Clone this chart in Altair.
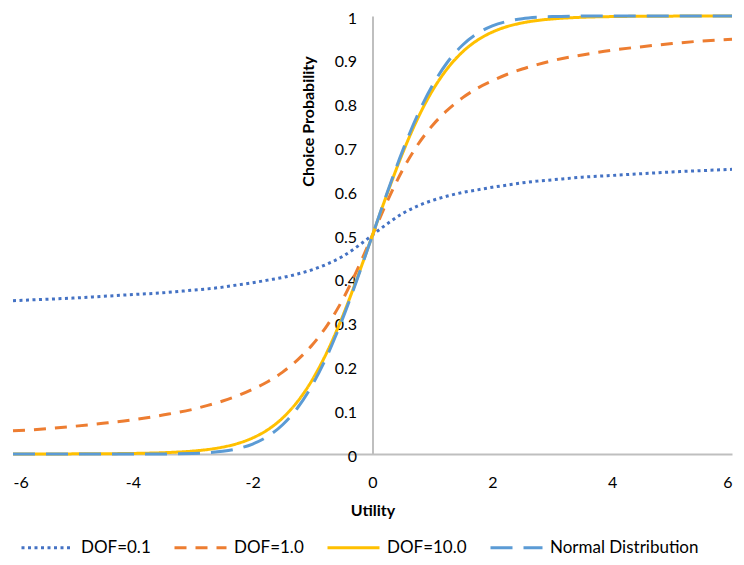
import altair as alt
import pandas as pd

x_vals = [-6, -5.5, -5, -4.5, -4, -3.5, -3, -2.75, -2.5, -2.25, -2, -1.75, -1.5, -1.25,
          -1, -0.75, -0.5, -0.25, 0, 0.25, 0.5, 0.75, 1, 1.25, 1.5, 1.75, 2, 2.25, 2.5,
          2.75, 3, 3.5, 4, 4.5, 5, 5.5, 6]

dof01 = [0.350, 0.353, 0.356, 0.360, 0.364, 0.368, 0.374, 0.377, 0.381, 0.386, 0.391, 0.397,
         0.403, 0.411, 0.421, 0.434, 0.451, 0.474, 0.500, 0.526, 0.549, 0.566, 0.579, 0.589,
         0.597, 0.603, 0.609, 0.614, 0.619, 0.623, 0.626, 0.632, 0.636, 0.640, 0.644, 0.647, 0.650]

dof1 = [0.053, 0.057, 0.063, 0.070, 0.078, 0.089, 0.102, 0.111, 0.121, 0.133, 0.148, 0.165,
        0.187, 0.215, 0.250, 0.295, 0.352, 0.422, 0.500, 0.578, 0.648, 0.705, 0.750, 0.785,
        0.813, 0.835, 0.852, 0.867, 0.879, 0.889, 0.898, 0.911, 0.922, 0.930, 0.937, 0.943, 0.947]

dof10 = [0.0001, 0.0001, 0.0003, 0.0006, 0.0013, 0.0029, 0.0067, 0.0102, 0.0157, 0.024, 0.0367,
         0.0553, 0.0823, 0.120, 0.1704, 0.2353, 0.3139, 0.4038, 0.500, 0.5962, 0.6861, 0.7647,
         0.8296, 0.880, 0.9177, 0.9447, 0.9633, 0.976, 0.9843, 0.9898, 0.9933, 0.9971, 0.9987,
         0.9994, 0.9997, 0.9999, 0.9999]

normal = [0.0, 0.0, 0.0, 0.0, 0.0, 0.0002, 0.0013, 0.003, 0.0062, 0.0122, 0.0228, 0.0401,
          0.0668, 0.1056, 0.1587, 0.2266, 0.3085, 0.4013, 0.500, 0.5987, 0.6915, 0.7734,
          0.8413, 0.8944, 0.9332, 0.9599, 0.9772, 0.9878, 0.9938, 0.997, 0.9987, 0.9998,
          1.0, 1.0, 1.0, 1.0, 1.0]

series_names = ["DOF=0.1", "DOF=1.0", "DOF=10.0", "Normal Distribution"]
series_values = [dof01, dof1, dof10, normal]
colors = ["#4472C4", "#ED7D31", "#FFC000", "#5B9BD5"]
dashes = [[3, 3.5], [12, 9], [1, 0], [22, 11]]

rows = []
for name, vals in zip(series_names, series_values):
    for xv, yv in zip(x_vals, vals):
        rows.append({"Utility": xv, "Prob": yv, "Series": name})
df = pd.DataFrame(rows)

W, H = 719, 438
FONT = "Lato"

chart = alt.Chart(df).mark_line(strokeWidth=3, interpolate="monotone").encode(
    x=alt.X("Utility:Q",
            scale=alt.Scale(domain=[-6, 6], nice=False, zero=False),
            axis=alt.Axis(values=[-6, -4, -2, 0, 2, 4, 6], title="Utility",
                          labelExpr="'' + datum.value",
                          grid=False, ticks=False, tickSize=0, labelPadding=20,
                          labelFontSize=16, labelFont=FONT, labelColor="#000000",
                          titleFont=FONT, titleFontSize=16, titleFontWeight="bold",
                          titleColor="#000000", titlePadding=12,
                          domainColor="#BFBFBF", domainWidth=2)),
    y=alt.Y("Prob:Q",
            scale=alt.Scale(domain=[0, 1], nice=False),
            axis=alt.Axis(values=[0, 0.1, 0.2, 0.3, 0.4, 0.5, 0.6, 0.7, 0.8, 0.9, 1],
                          labelExpr="'' + datum.value",
                          title="Choice Probability", offset=-W / 2,
                          grid=False, ticks=False, tickSize=0, labelPadding=16,
                          labelOffset=2,
                          labelFontSize=16, labelFont=FONT, labelColor="#000000",
                          titleFont=FONT, titleFontSize=16, titleFontWeight="bold",
                          titleColor="#000000", titleX=-64, titleY=105,
                          titleAngle=270, titleAlign="center", titleBaseline="middle",
                          domainColor="#BFBFBF", domainWidth=2)),
    color=alt.Color("Series:N",
                    scale=alt.Scale(domain=series_names, range=colors),
                    legend=alt.Legend(title=None, orient="none", direction="horizontal",
                                      legendX=7, legendY=504,
                                      symbolType="stroke", symbolSize=2704,
                                      symbolStrokeWidth=3, labelFontSize=17,
                                      labelFont=FONT, labelColor="#000000",
                                      labelOffset=6, columnPadding=17)),
    strokeDash=alt.StrokeDash("Series:N",
                              scale=alt.Scale(domain=series_names, range=dashes),
                              legend=None),
).properties(
    width=W, height=H,
    autosize=alt.AutoSizeParams(type="none"),
    padding={"left": 5, "top": 8, "right": 3, "bottom": 102},
).configure_view(stroke=None)

chart.save("out.html", embed_options={"renderer": "svg", "actions": False})
